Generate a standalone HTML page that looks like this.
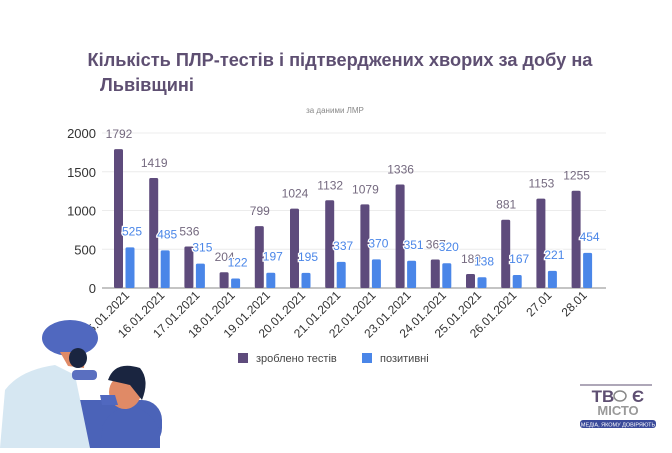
<!DOCTYPE html>
<html><head><meta charset="utf-8"><style>
body{margin:0;width:672px;height:448px;background:#fff;overflow:hidden;font-family:"Liberation Sans",sans-serif}
</style></head><body>
<svg id="s" width="672" height="448" xmlns="http://www.w3.org/2000/svg" font-family="Liberation Sans, DejaVu Sans, sans-serif">
<text x="340" y="66" text-anchor="middle" font-size="18.2" font-weight="bold" fill="#5e4f72">Кількість ПЛР-тестів і підтверджених хворих за добу на</text>
<text x="100" y="91" font-size="18.2" font-weight="bold" fill="#5e4f72">Львівщині</text>
<text x="335" y="113" text-anchor="middle" font-size="8" fill="#888">за даними ЛМР</text>
<g id="g"></g>
<rect x="238" y="353" width="10" height="10" fill="#5e4b7c"/>
<text x="256" y="362" font-size="11" fill="#444">зроблено тестів</text>
<rect x="362" y="353" width="10" height="10" fill="#4a86e8"/>
<text x="380" y="362" font-size="11" fill="#444">позитивні</text>
<!-- illustration -->
<rect x="50" y="400" width="112" height="48" rx="20" fill="#4b63b8"/>
<path d="M0 448 L5 390 Q20 370 55 365 L75 375 L90 448Z" fill="#d6e7f2"/>
<ellipse cx="70" cy="338" rx="28" ry="18" fill="#5068bf"/>
<path d="M60 352 L85 352 L84 368 L68 366Z" fill="#e08a66"/>
<ellipse cx="78" cy="358" rx="9" ry="10" fill="#1a2540"/>
<rect x="72" y="370" width="25" height="10" rx="4" fill="#5a6fc0"/>
<path d="M103 425 Q110 410 130 405 Q150 410 160 430 L160 448 L100 448Z" fill="#4b63b8"/>
<ellipse cx="125" cy="392" rx="16" ry="17" fill="#e08a66"/>
<path d="M108 380 Q115 360 140 368 Q150 380 142 400 L130 385Z" fill="#1a2540"/>
<path d="M100 395 L115 395 L118 405 L102 405Z" fill="#5068bf"/>
<!-- logo -->
<line x1="580" y1="385" x2="652" y2="385" stroke="#5e4f72" stroke-width="1"/>
<text x="603" y="402" font-size="17" font-weight="bold" fill="#5e4f72" text-anchor="middle">ТВ</text>
<text x="638" y="402" font-size="17" font-weight="bold" fill="#5e4f72" text-anchor="middle">Є</text>
<ellipse cx="620" cy="396" rx="6" ry="5" fill="none" stroke="#888" stroke-width="1.5"/>
<text x="618" y="415" font-size="13" font-weight="bold" fill="#999" text-anchor="middle">МІСТО</text>
<rect x="580" y="420" width="76" height="8" rx="3" fill="#3a4a9a"/>
<text x="618" y="426.5" font-size="5.5" fill="#fff" text-anchor="middle">МЕДІА, ЯКОМУ ДОВІРЯЮТЬ</text>
</svg>
<script>
var tests=[1792,1419,536,204,799,1024,1132,1079,1336,367,180,881,1153,1255];
var pos=[525,485,315,122,197,195,337,370,351,320,138,167,221,454];
var labs=["15.01.2021","16.01.2021","17.01.2021","18.01.2021","19.01.2021","20.01.2021","21.01.2021","22.01.2021","23.01.2021","24.01.2021","25.01.2021","26.01.2021","27.01","28.01"];
var h='';var y0=288,k=155/2000;
[0,500,1000,1500,2000].forEach(function(v){var y=y0-v*k;
h+='<line x1="102" x2="606" y1="'+y+'" y2="'+y+'" stroke="'+(v?'#ececec':'#888')+'" stroke-width="1"/>';
h+='<text x="96" y="'+(y+5)+'" text-anchor="end" font-size="13" fill="#333">'+v+'</text>';});
for(var i=0;i<14;i++){var x=114+i*35.2;
var t=tests[i]*k,p=pos[i]*k;
h+='<rect x="'+x+'" y="'+(y0-t)+'" width="9" height="'+t+'" rx="1.5" fill="#5e4b7c"/>';
h+='<rect x="'+(x+11.5)+'" y="'+(y0-p)+'" width="9" height="'+p+'" rx="1.5" fill="#4a86e8"/>';
h+='<text x="'+(x+5)+'" y="'+(y0-t-11)+'" text-anchor="middle" font-size="12" fill="#74697f">'+tests[i]+'</text>';
h+='<text x="'+(x+18)+'" y="'+(y0-p-12)+'" text-anchor="middle" font-size="12" fill="#4a86e8" stroke="#fff" stroke-width="2.5" paint-order="stroke">'+pos[i]+'</text>';
var lx=x+16,ly=296;
h+='<text transform="translate('+lx+','+ly+') rotate(-45)" text-anchor="end" font-size="12" fill="#333">'+labs[i]+'</text>';}
document.getElementById('g').innerHTML=h;
</script>
</body></html>
